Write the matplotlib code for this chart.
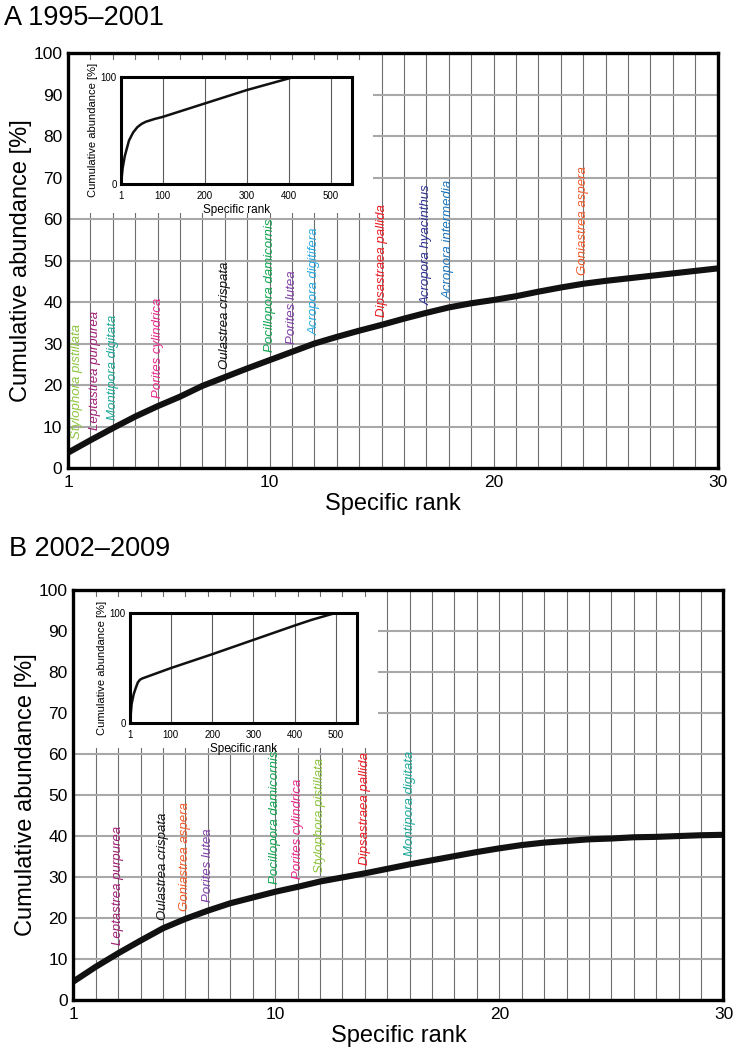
import matplotlib.pyplot as plt
from matplotlib.patches import Rectangle
import numpy as np

plt.rcParams['font.family'] = ['Liberation Sans', 'DejaVu Sans']

# main curves, rank 1..30
ranks = list(range(1, 31))
cum_1995 = [3.7, 6.7, 9.6, 12.4, 14.9, 17.2, 19.8, 21.9, 24.0, 26.0,
            28.0, 30.0, 31.6, 33.1, 34.5, 36.0, 37.4, 38.7, 39.7, 40.5,
            41.4, 42.5, 43.5, 44.4, 45.1, 45.7, 46.3, 46.9, 47.5, 48.1]
cum_2002 = [4.5, 8.1, 11.4, 14.5, 17.5, 19.8, 21.8, 23.6, 25.0, 26.4,
            27.6, 28.9, 29.9, 30.9, 32.0, 33.1, 34.1, 35.1, 36.1, 37.0,
            37.8, 38.4, 38.8, 39.2, 39.4, 39.7, 39.8, 40.0, 40.2, 40.3]

# full-range curves for the insets
inset_rank_1995 = [1, 5, 10, 20, 30, 40, 50, 60, 80, 100, 200, 300, 415]
inset_cum_1995 = [0, 14.9, 26.0, 40.5, 48.1, 53, 56, 58, 60.5, 62.5, 75, 87.5, 100]
inset_rank_2002 = [1, 5, 10, 15, 20, 25, 30, 100, 200, 300, 400, 440, 500]
inset_cum_2002 = [0, 17.5, 26.4, 32.0, 37.0, 39.4, 40.5, 50, 62.5, 75.5, 88.5, 93.5, 100]

species_1995 = ['Stylophora pistillata', 'Leptastrea purpurea', 'Montipora digitata',
                'Porites cylindrica', 'Oulastrea crispata', 'Pocillopora damicornis',
                'Porites lutea', 'Acropora digitifera', 'Dipsastraea pallida',
                'Acropora hyacinthus', 'Acropora intermedia', 'Goniastrea aspera']
label_rank_1995 = [1, 2, 3, 5, 8, 10, 11, 12, 15, 17, 18, 24]

species_2002 = ['Leptastrea purpurea', 'Oulastrea crispata', 'Goniastrea aspera',
                'Porites lutea', 'Pocillopora damicornis', 'Porites cylindrica',
                'Stylophora pistillata', 'Dipsastraea pallida', 'Montipora digitata']
label_rank_2002 = [3, 5, 6, 7, 10, 11, 12, 14, 16]

colors = {
    'Stylophora pistillata': '#8dc63f',
    'Leptastrea purpurea': '#9e1f74',
    'Montipora digitata': '#1fa99a',
    'Porites cylindrica': '#e8288a',
    'Oulastrea crispata': '#111111',
    'Pocillopora damicornis': '#12a650',
    'Porites lutea': '#8040a8',
    'Acropora digitifera': '#27aae1',
    'Dipsastraea pallida': '#ed1c24',
    'Acropora hyacinthus': '#2e3192',
    'Acropora intermedia': '#1c75bc',
    'Goniastrea aspera': '#f15a29',
}

fig = plt.figure(figsize=(7.36, 10.52), dpi=100)


def panel(rect, y, names, lab_ranks, nudge, inset_rect, ix, iy, title, title_xy):
    ax = fig.add_axes(rect)
    ax.set_axisbelow(True)
    ax.set_xlim(1, 30)
    ax.set_ylim(0, 100)
    ax.set_xticks([1, 10, 20, 30])
    ax.set_xticks(ranks, minor=True)
    ax.set_yticks(range(0, 101, 10))
    ax.grid(which='both', axis='x', color='#6e6e6e', lw=0.8)
    ax.grid(which='major', axis='y', color='#a8a8a8', lw=1.5)
    ax.tick_params(which='both', length=0, labelsize=12.5)
    ax.tick_params(axis='y', pad=4)
    ax.tick_params(axis='x', pad=5)
    for s in ax.spines.values():
        s.set_linewidth(2.4)
    # white area behind the inset
    ax.add_patch(Rectangle((1, 61.4), 13.6, 36.9, facecolor='white',
                           edgecolor='none', zorder=1))
    ax.plot(ranks, y, color='#111111', lw=4.4, solid_capstyle='butt',
            solid_joinstyle='round', zorder=2)
    for name, r in zip(names, lab_ranks):
        xr = r + nudge.get(r, 0)
        yv = np.interp(xr, ranks, y) + 2.0
        ax.text(xr, yv, name, rotation=90, ha='center', va='bottom',
                fontsize=9.5, style='italic', color=colors[name], zorder=3)
    ax.set_xlabel('Specific rank', fontsize=17, labelpad=2)
    ax.set_ylabel('Cumulative abundance [%]', fontsize=17, labelpad=1)
    fig.text(title_xy[0], title_xy[1], title, fontsize=19.5, va='baseline')

    ins = fig.add_axes(inset_rect)
    ins.set_axisbelow(True)
    ins.plot(ix, iy, color='#111111', lw=1.8, solid_joinstyle='round', zorder=2)
    ins.set_xlim(1, 550)
    ins.set_ylim(0, 100)
    ins.set_xticks([1, 100, 200, 300, 400, 500])
    ins.set_yticks([0, 100])
    ins.grid(axis='x', color='#5a5a5a', lw=0.8)
    ins.tick_params(length=0, labelsize=7, pad=3)
    ins.tick_params(axis='x', pad=5)
    for s in ins.spines.values():
        s.set_linewidth(2.2)
    ins.set_xlabel('Specific rank', fontsize=8.5, labelpad=2)
    ins.set_ylabel('Cumulative abundance [%]', fontsize=8, labelpad=2)
    return ax


panel([0.0924, 0.5551, 0.8827, 0.3945], cum_1995, species_1995, label_rank_1995,
      {1: 0.4, 2: 0.2}, [0.1644, 0.8251, 0.3135, 0.102],
      inset_rank_1995, inset_cum_1995, 'A 1995\u20132001', (0.005, 1 - 25 / 1052))
panel([0.0996, 0.0494, 0.8834, 0.3897], cum_2002, species_2002, label_rank_2002,
      {}, [0.1766, 0.3124, 0.308, 0.1051],
      inset_rank_2002, inset_cum_2002, 'B 2002\u20132009', (0.012, 1 - 556 / 1052))

fig.savefig('out.png', dpi=100)
